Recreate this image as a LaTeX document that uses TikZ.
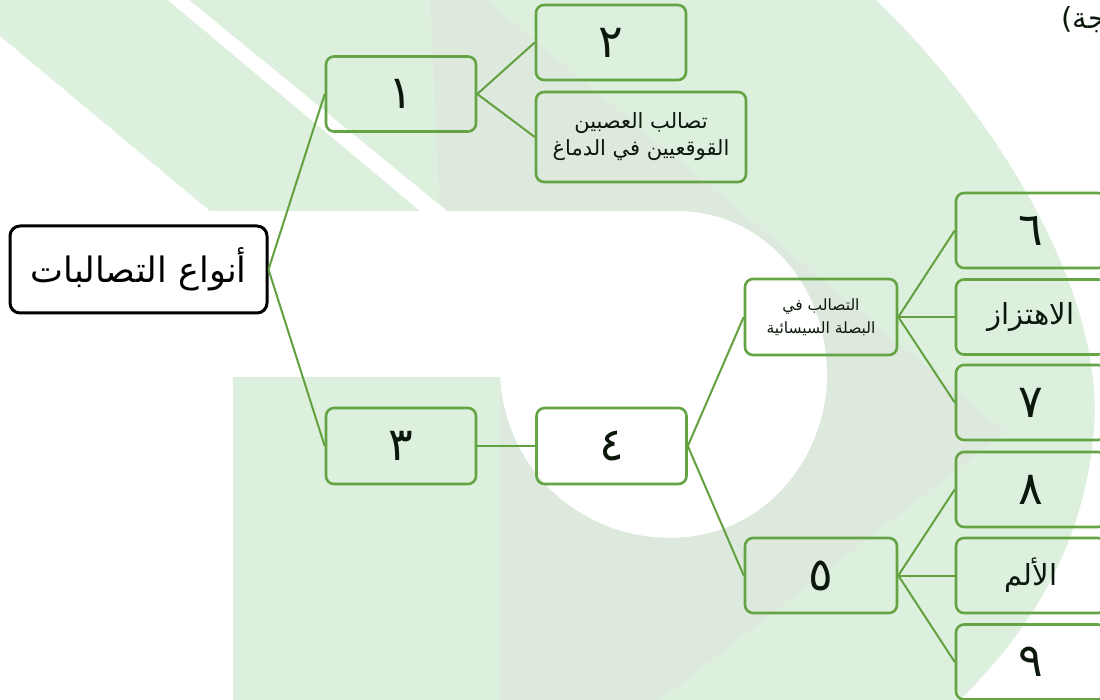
\documentclass[tikz,border=0pt]{standalone}
\usepackage{fontspec}
\newfontfamily\arabicfont[Script=Arabic]{DejaVu Sans}
\TeXXeTstate=1
\definecolor{bggreen}{RGB}{221,240,222}
\definecolor{bggray}{RGB}{222,233,222}
\definecolor{boxgreen}{RGB}{100,164,68}
\definecolor{linegreen}{RGB}{98,160,64}
\definecolor{txt}{RGB}{12,24,12}
\tikzset{
  box/.style={draw=boxgreen,line width=2.6pt,rounded corners=8pt,inner sep=0pt,align=center,text=txt,minimum width=150pt,minimum height=75pt},
  digit/.style={box,font=\arabicfont\fontsize{46}{50}\selectfont},
  word/.style={box,font=\arabicfont\fontsize{29}{34}\selectfont},
  small/.style={box,font=\arabicfont\fontsize{21}{27}\selectfont},
  tiny/.style={box,font=\arabicfont\fontsize{15.5}{23}\selectfont},
  rootbox/.style={draw=black,line width=3pt,rounded corners=10pt,inner sep=0pt,text=black,minimum width=257pt,minimum height=87pt,font=\arabicfont\fontsize{35}{40}\selectfont},
  conn/.style={draw=linegreen,line width=2pt}
}
\begin{document}
\begin{tikzpicture}[x=1pt,y=-1pt]
\useasboundingbox (0,0) rectangle (1100,700);
% background watermark
\fill[white] (0,0) rectangle (1100,700);
\begin{scope}
\path[fill=bggreen] (0,0) -- (876,0) .. controls (1000,120) and (1110,300) .. (1093,440)
  .. controls (1080,560) and (1020,640) .. (960,700) -- (500,700) -- (500,377)
  .. controls (505,470) and (580,538) .. (670,538)
  .. controls (770,538) and (830,450) .. (827,370)
  .. controls (825,280) and (760,212) .. (680,211) -- (210,211) -- (0,36) -- cycle;
\clip (0,0) -- (876,0) .. controls (1000,120) and (1110,300) .. (1093,440)
  .. controls (1080,560) and (1020,640) .. (960,700) -- (500,700) -- (500,377)
  .. controls (505,470) and (580,538) .. (670,538)
  .. controls (770,538) and (830,450) .. (827,370)
  .. controls (825,280) and (760,212) .. (680,211) -- (210,211) -- (0,36) -- cycle;
\fill[bggray] (430,0) -- (486,0) -- (1005,432) -- (660,700) -- (500,700) -- (500,300) -- (440,211) -- cycle;
\end{scope}
\fill[white] (168,0) -- (189,0) -- (447,211) -- (420,211) -- cycle;
\fill[bggreen] (233,377) rectangle (500,700);
% cut-off text at top right
\node[anchor=west,inner sep=0pt,text=txt,font=\arabicfont\fontsize{29}{34}\selectfont] (cut) at (1061,20) {\beginR نتيجة)\endR};
% nodes
\node[rootbox] (root) at (138.5,269.5) {\beginR أنواع التصالبات\endR};
\node[digit] (n1) at (401,94) {١};
\node[digit] (n2) at (611,42.5) {٢};
\node[small,minimum width=210pt,minimum height=90pt] (n2b) at (641,137) {\beginR تصالب العصبين\endR\\\beginR القوقعيين في الدماغ\endR};
\node[digit,minimum height=76pt] (n3) at (401,446) {٣};
\node[digit,minimum height=76pt] (n4) at (611.5,446) {٤};
\node[tiny,minimum width=152pt,minimum height=76pt] (n4a) at (821,317) {\beginR التصالب في\endR\\\beginR البصلة السيسائية\endR};
\node[digit,minimum width=152pt] (n5) at (821,575.5) {٥};
\node[digit] (r1) at (1031,230.5) {٦};
\node[word] (r2) at (1031,317) {\beginR الاهتزاز\endR};
\node[digit] (r3) at (1031,402.5) {٧};
\node[digit] (r4) at (1031,489.5) {٨};
\node[word] (r5) at (1031,575.5) {\beginR الألم\endR};
\node[digit] (r6) at (1031,662) {٩};
% connectors
\draw[conn] (root.east) -- (n1.west);
\draw[conn] (root.east) -- (n3.west);
\draw[conn] (n1.east) -- (n2.west);
\draw[conn] (n1.east) -- (n2b.west);
\draw[conn] (n3.east) -- (n4.west);
\draw[conn] (n4.east) -- (n4a.west);
\draw[conn] (n4.east) -- (n5.west);
\draw[conn] (n4a.east) -- (r1.west);
\draw[conn] (n4a.east) -- (r2.west);
\draw[conn] (n4a.east) -- (r3.west);
\draw[conn] (n5.east) -- (r4.west);
\draw[conn] (n5.east) -- (r5.west);
\draw[conn] (n5.east) -- (r6.west);
\end{tikzpicture}
\end{document}
